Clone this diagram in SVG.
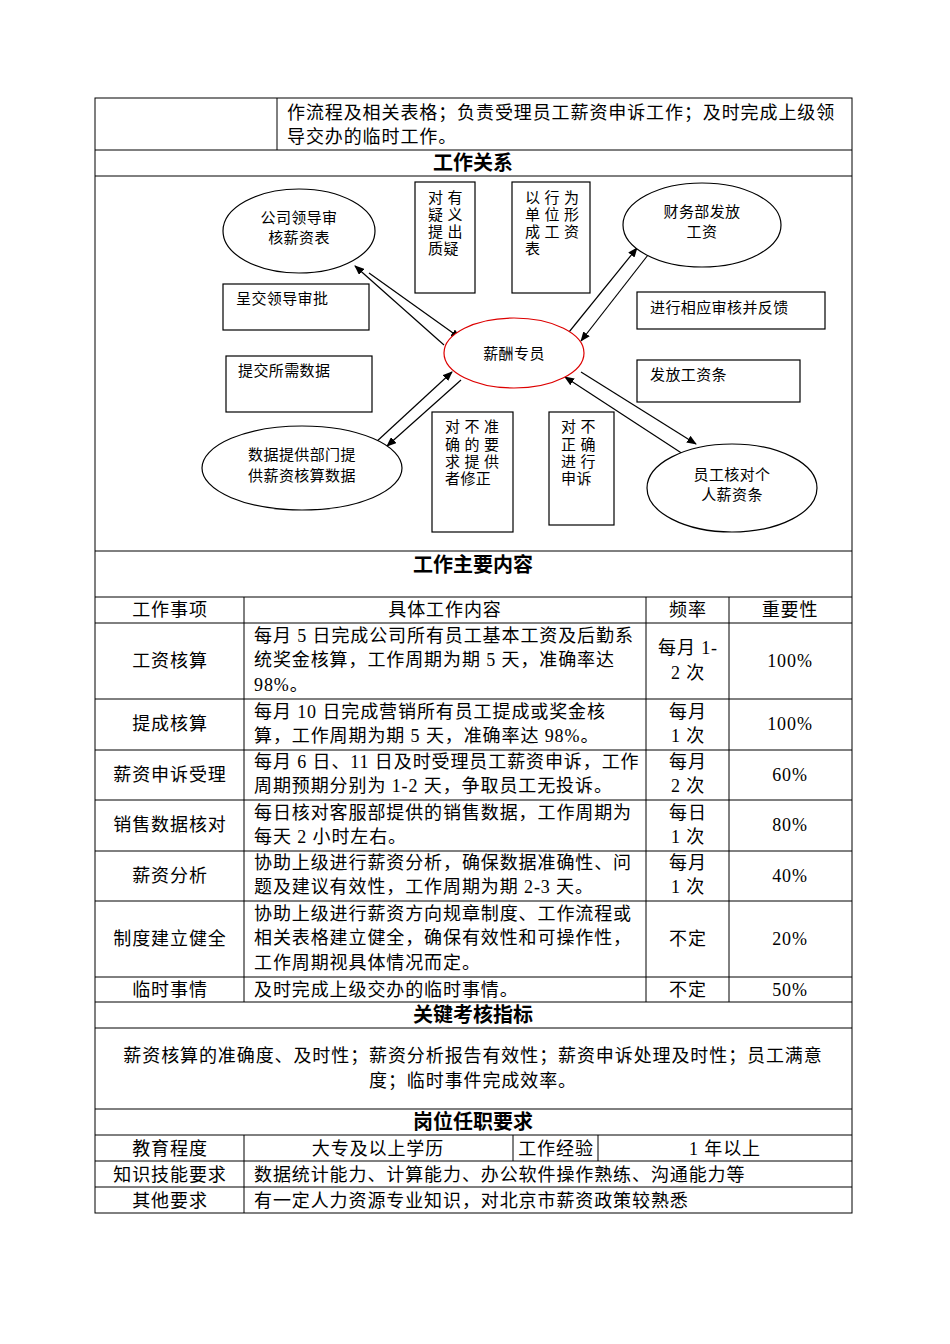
<svg xmlns="http://www.w3.org/2000/svg" width="950" height="1344" viewBox="0 0 950 1344">
<style>
text{font-family:"Liberation Serif","Noto Sans CJK SC",serif;fill:#000}
.t{font-size:18px;letter-spacing:0.9px}
.h{font-size:20px;font-weight:bold}
.d{font-size:15px;letter-spacing:0.4px}
.c{text-anchor:middle}
.ln{stroke:#000;stroke-width:1;fill:none}
.bx{fill:#fff;stroke:#000;stroke-width:1.2}
.el{fill:#fff;stroke:#000;stroke-width:1.2}
.ar{stroke:#000;stroke-width:1.2;marker-end:url(#a)}
</style>
<defs><marker id="a" markerWidth="10" markerHeight="8" refX="9" refY="4" orient="auto" markerUnits="userSpaceOnUse"><path d="M0,0L10,4L0,8z" fill="#000"/></marker></defs>
<rect width="950" height="1344" fill="#fff"/>
<g id="table">
<rect class="ln" x="95" y="98" width="757" height="1115"/>
<path class="ln" d="M277,98V150M95,150H852M95,176H852M95,551H852M95,597H852M95,623H852M95,699H852M95,750H852M95,800H852M95,851H852M95,901H852M95,977H852M95,1002H852M95,1028H852M95,1109H852M95,1135H852M95,1161H852M95,1187H852M244,597V1002M646,597V1002M729,597V1002M244,1135V1213M513,1135V1161M598,1135V1161"/>
<text class="t" x="287" y="119">作流程及相关表格；负责受理员工薪资申诉工作；及时完成上级领</text>
<text class="t" x="287" y="143">导交办的临时工作。</text>
<text class="h c" x="473" y="170">工作关系</text>
<text class="h c" x="473" y="572">工作主要内容</text>
<text class="t c" x="170" y="616">工作事项</text><text class="t c" x="445" y="616">具体工作内容</text><text class="t c" x="688" y="616">频率</text><text class="t c" x="790" y="616">重要性</text>
<text class="t c" x="170" y="667">工资核算</text>
<text class="t" x="254" y="642">每月 5 日完成公司所有员工基本工资及后勤系</text>
<text class="t" x="254" y="666">统奖金核算，工作周期为期 5 天，准确率达</text>
<text class="t" x="254" y="691">98%。</text>
<text class="t c" x="688" y="654">每月 1-</text><text class="t c" x="688" y="679">2 次</text><text class="t c" x="790" y="667">100%</text>
<text class="t c" x="170" y="730">提成核算</text>
<text class="t" x="254" y="718">每月 10 日完成营销所有员工提成或奖金核</text>
<text class="t" x="254" y="742">算，工作周期为期 5 天，准确率达 98%。</text>
<text class="t c" x="688" y="718">每月</text><text class="t c" x="688" y="742">1 次</text><text class="t c" x="790" y="730">100%</text>
<text class="t c" x="170" y="781">薪资申诉受理</text>
<text class="t" x="254" y="768">每月 6 日、11 日及时受理员工薪资申诉，工作</text>
<text class="t" x="254" y="792">周期预期分别为 1-2 天，争取员工无投诉。</text>
<text class="t c" x="688" y="768">每月</text><text class="t c" x="688" y="792">2 次</text><text class="t c" x="790" y="781">60%</text>
<text class="t c" x="170" y="831">销售数据核对</text>
<text class="t" x="254" y="819">每日核对客服部提供的销售数据，工作周期为</text>
<text class="t" x="254" y="843">每天 2 小时左右。</text>
<text class="t c" x="688" y="819">每日</text><text class="t c" x="688" y="843">1 次</text><text class="t c" x="790" y="831">80%</text>
<text class="t c" x="170" y="882">薪资分析</text>
<text class="t" x="254" y="869">协助上级进行薪资分析，确保数据准确性、问</text>
<text class="t" x="254" y="893">题及建议有效性，工作周期为期 2-3 天。</text>
<text class="t c" x="688" y="869">每月</text><text class="t c" x="688" y="893">1 次</text><text class="t c" x="790" y="882">40%</text>
<text class="t c" x="170" y="945">制度建立健全</text>
<text class="t" x="254" y="920">协助上级进行薪资方向规章制度、工作流程或</text>
<text class="t" x="254" y="944">相关表格建立健全，确保有效性和可操作性，</text>
<text class="t" x="254" y="969">工作周期视具体情况而定。</text>
<text class="t c" x="688" y="945">不定</text><text class="t c" x="790" y="945">20%</text>
<text class="t c" x="170" y="996">临时事情</text>
<text class="t" x="254" y="996">及时完成上级交办的临时事情。</text>
<text class="t c" x="688" y="996">不定</text><text class="t c" x="790" y="996">50%</text>
<text class="h c" x="473" y="1022">关键考核指标</text>
<text class="t c" x="473" y="1062">薪资核算的准确度、及时性；薪资分析报告有效性；薪资申诉处理及时性；员工满意</text>
<text class="t c" x="473" y="1087">度；临时事件完成效率。</text>
<text class="h c" x="473" y="1129">岗位任职要求</text>
<text class="t c" x="170" y="1155">教育程度</text><text class="t c" x="378" y="1155">大专及以上学历</text><text class="t c" x="556" y="1155">工作经验</text><text class="t c" x="725" y="1155">1 年以上</text>
<text class="t c" x="170" y="1181">知识技能要求</text><text class="t" x="254" y="1181">数据统计能力、计算能力、办公软件操作熟练、沟通能力等</text>
<text class="t c" x="170" y="1207">其他要求</text><text class="t" x="254" y="1207">有一定人力资源专业知识，对北京市薪资政策较熟悉</text>
</g>
<g id="connectors">
<line class="ar" x1="369" y1="273" x2="460" y2="338"/>
<line class="ar" x1="444" y1="345" x2="355" y2="266"/>
<line class="ar" x1="565" y1="337" x2="637" y2="248"/>
<line class="ar" x1="648" y1="255" x2="581" y2="341"/>
<line class="ar" x1="375" y1="443" x2="452" y2="372"/>
<line class="ar" x1="461" y1="380" x2="387" y2="446"/>
<line class="ar" x1="581" y1="372" x2="696" y2="444"/>
<line class="ar" x1="683" y1="454" x2="565" y2="377"/>
</g>
<g id="n1"><ellipse class="el" cx="299" cy="231" rx="76" ry="42"/><text class="d c" x="299" y="223">公司领导审</text><text class="d c" x="299" y="243">核薪资表</text></g>
<g id="n2"><ellipse class="el" cx="514" cy="353" rx="70" ry="35" style="stroke:#d00"/><text class="d c" x="514" y="359">薪酬专员</text></g>
<g id="n3"><ellipse class="el" cx="702" cy="225" rx="79" ry="42"/><text class="d c" x="702" y="217">财务部发放</text><text class="d c" x="702" y="237">工资</text></g>
<g id="n4"><ellipse class="el" cx="302" cy="468" rx="100" ry="42"/><text class="d c" x="302" y="460">数据提供部门提</text><text class="d c" x="302" y="481">供薪资核算数据</text></g>
<g id="n5"><ellipse class="el" cx="732" cy="488" rx="85" ry="44"/><text class="d c" x="732" y="480">员工核对个</text><text class="d c" x="732" y="500">人薪资条</text></g>
<g id="b1"><rect class="bx" x="415" y="182" width="60" height="111"/><text class="d" x="428" y="203">对 有</text><text class="d" x="428" y="220">疑 义</text><text class="d" x="428" y="237">提 出</text><text class="d" x="428" y="254">质疑</text></g>
<g id="b2"><rect class="bx" x="512" y="182" width="78" height="111"/><text class="d" x="525" y="203">以 行 为</text><text class="d" x="525" y="220">单 位 形</text><text class="d" x="525" y="237">成 工 资</text><text class="d" x="525" y="254">表</text></g>
<g id="b3"><rect class="bx" x="223" y="284" width="146" height="46"/><text class="d" x="236" y="304">呈交领导审批</text></g>
<g id="b4"><rect class="bx" x="637" y="292" width="188" height="37"/><text class="d" x="650" y="313">进行相应审核并反馈</text></g>
<g id="b5"><rect class="bx" x="226" y="356" width="146" height="56"/><text class="d" x="238" y="376">提交所需数据</text></g>
<g id="b6"><rect class="bx" x="637" y="360" width="163" height="42"/><text class="d" x="650" y="380">发放工资条</text></g>
<g id="b7"><rect class="bx" x="432" y="412" width="81" height="120"/><text class="d" x="445" y="432">对 不 准</text><text class="d" x="445" y="450">确 的 要</text><text class="d" x="445" y="467">求 提 供</text><text class="d" x="445" y="484">者修正</text></g>
<g id="b8"><rect class="bx" x="549" y="412" width="65" height="113"/><text class="d" x="561" y="432">对    不</text><text class="d" x="561" y="450">正    确</text><text class="d" x="561" y="467">进    行</text><text class="d" x="561" y="484">申诉</text></g>
</svg>
